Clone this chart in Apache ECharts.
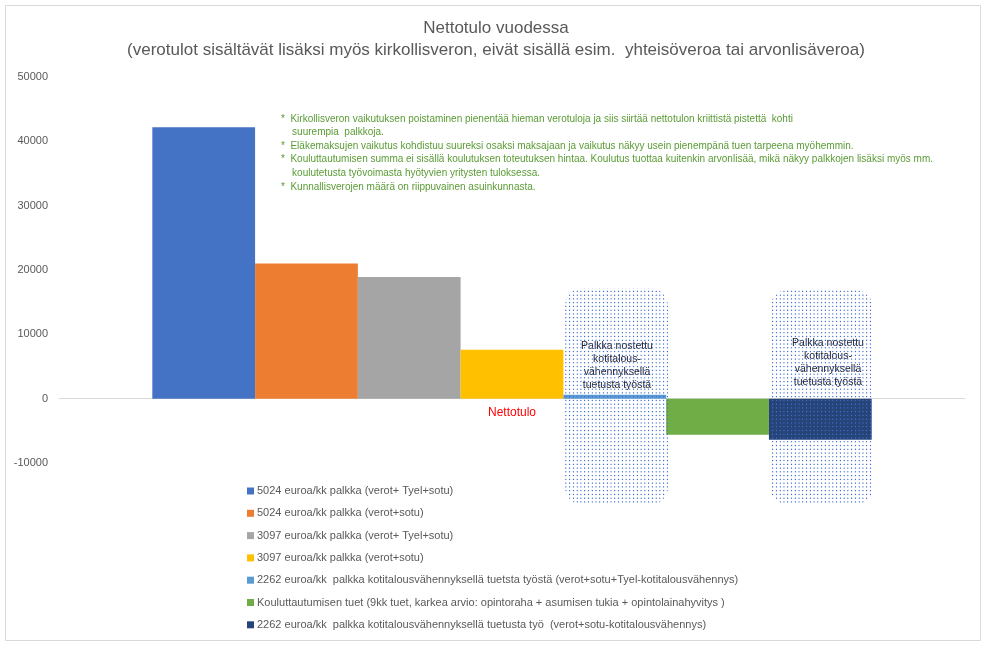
<!DOCTYPE html>
<html><head><meta charset="utf-8">
<script src="https://cdn.jsdelivr.net/npm/echarts@6/dist/echarts.min.js"></script>
<style>html,body{margin:0;padding:0;background:#fff}#c{width:987px;height:648px}</style>
</head><body><div id="c"></div>
<script>
const categories = ['Nettotulo'];
const seriesNames = [
  '5024 euroa/kk palkka (verot+ Tyel+sotu)',
  '5024 euroa/kk palkka (verot+sotu)',
  '3097 euroa/kk palkka (verot+ Tyel+sotu)',
  '3097 euroa/kk palkka (verot+sotu)',
  '2262 euroa/kk  palkka kotitalousvähennyksellä tuetsta työstä (verot+sotu+Tyel-kotitalousvähennys)',
  'Kouluttautumisen tuet (9kk tuet, karkea arvio: opintoraha + asumisen tukia + opintolainahyvitys )',
  '2262 euroa/kk  palkka kotitalousvähennyksellä tuetusta työ  (verot+sotu-kotitalousvähennys)'
];
const seriesValues = [42200, 21000, 18900, 7600, 600, -5600, -6400];
const seriesColors = ['#4472C4','#ED7D31','#A5A5A5','#FFC000','#5B9BD5','#70AD47','#264478'];
const yTicks = {min: -10000, max: 50000, interval: 10000};
const notes = [
  '*  Kirkollisveron vaikutuksen poistaminen pienentää hieman verotuloja ja siis siirtää nettotulon kriittistä pistettä  kohti',
  '    suurempia  palkkoja.',
  '*  Eläkemaksujen vaikutus kohdistuu suureksi osaksi maksajaan ja vaikutus näkyy usein pienempänä tuen tarpeena myöhemmin.',
  '*  Kouluttautumisen summa ei sisällä koulutuksen toteutuksen hintaa. Koulutus tuottaa kuitenkin arvonlisää, mikä näkyy palkkojen lisäksi myös mm.',
  '    koulutetusta työvoimasta hyötyvien yritysten tuloksessa.',
  '*  Kunnallisverojen määrä on riippuvainen asuinkunnasta.'
];
const boxText = 'Palkka nostettu\nkotitalous-\nvähennyksellä\ntuetusta työstä';

const FONT = 'Liberation Sans, Arial, sans-serif';
const dotCanvas = document.createElement('canvas');
dotCanvas.width = 8; dotCanvas.height = 8;
const dctx = dotCanvas.getContext('2d');
dctx.fillStyle = '#3f6fd0';
dctx.beginPath(); dctx.arc(4, 4, 1.4, 0, Math.PI * 2); dctx.fill();
const dotPattern = {image: dotCanvas, repeat: 'repeat', scaleX: 0.47, scaleY: 0.47};

const chart = echarts.init(document.getElementById('c'), null, {renderer: 'canvas'});
const series = seriesNames.map((n, i) => ({
  name: n, type: 'bar', data: [seriesValues[i]],
  itemStyle: {color: seriesColors[i]},
  barGap: '0%', barCategoryGap: '20.6%', z: 2
}));

chart.setOption({
  animation: false,
  textStyle: {fontFamily: FONT},
  title: {
    text: 'Nettotulo vuodessa\n(verotulot sisältävät lisäksi myös kirkollisveron, eivät sisällä esim.  yhteisöveroa tai arvonlisäveroa)',
    left: 491, top: 12, textAlign: 'center',
    textStyle: {fontSize: 17, fontWeight: 'normal', color: '#595959', lineHeight: 22, fontFamily: FONT}
  },
  legend: {
    orient: 'vertical', left: 242, top: 479,
    itemWidth: 7, itemHeight: 7, itemGap: 8.3,
    icon: 'rect',
    textStyle: {fontSize: 11, color: '#595959', lineHeight: 14, fontFamily: FONT, padding: [0,0,0,-2]},
    data: seriesNames
  },
  grid: {left: 59, right: 22, top: 77, bottom: 185, containLabel: false},
  xAxis: {
    type: 'category', data: categories,
    axisLine: {onZero: true, lineStyle: {color: '#d9d9d9', width: 1}},
    axisTick: {show: false},
    axisLabel: {show: false},
    splitLine: {show: false}
  },
  yAxis: {
    type: 'value', min: yTicks.min, max: yTicks.max, interval: yTicks.interval,
    axisLine: {show: false}, axisTick: {show: false}, splitLine: {show: false},
    axisLabel: {color: '#595959', fontSize: 11, margin: 11, fontFamily: FONT, formatter: v => String(v)}
  },
  series: series
});

const catX = chart.convertToPixel({xAxisIndex: 0}, categories[0]);
const zeroY = chart.convertToPixel({yAxisIndex: 0}, 0);

chart.setOption({
  graphic: [
    {type: 'rect', shape: {x: 5.5, y: 5.5, width: 975, height: 635}, style: {fill: 'none', stroke: '#d9d9d9', lineWidth: 1}, z: -1, silent: true},
    {type: 'text', x: catX, y: zeroY + 14, z: 10, style: {text: categories[0], fill: '#ff0000', font: '12px ' + FONT, align: 'center', verticalAlign: 'middle'}},
    {type: 'text', left: 281, top: 112, z: 10, style: {text: notes.join('\n'), fill: '#5a9b35', font: '10px ' + FONT, lineHeight: 13.6}},
    {type: 'rect', shape: {x: 565, y: 288, width: 103, height: 217, r: 18}, style: {fill: dotPattern}, z: 20, silent: true},
    {type: 'rect', shape: {x: 770, y: 290, width: 103, height: 215, r: 18}, style: {fill: dotPattern}, z: 20, silent: true},
    {type: 'text', x: 617, y: 340, z: 19, style: {text: boxText, fill: '#262636', font: '10.5px ' + FONT, lineHeight: 13, align: 'center'}},
    {type: 'text', x: 828, y: 337, z: 19, style: {text: boxText, fill: '#262636', font: '10.5px ' + FONT, lineHeight: 13, align: 'center'}}
  ]
});
</script></body></html>
